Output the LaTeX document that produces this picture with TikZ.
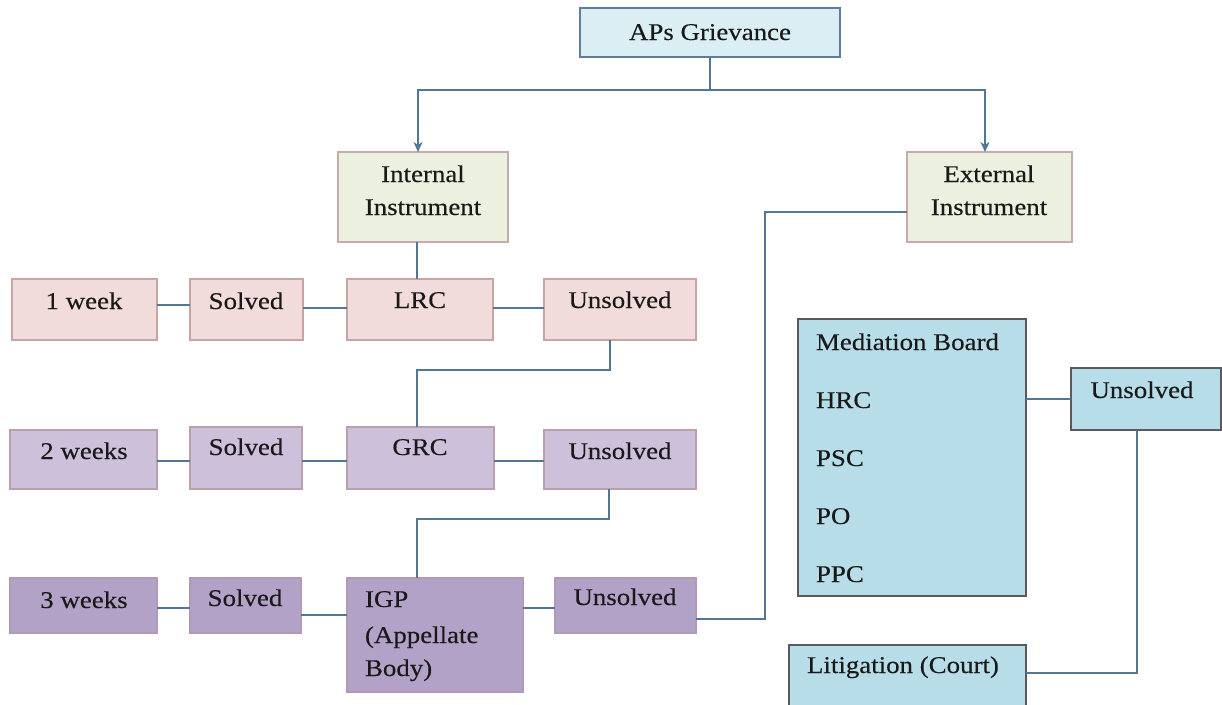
\documentclass[tikz,border=0pt]{standalone}
\usepackage{fontspec}
\setmainfont{Liberation Serif}[FakeStretch=1.12,FakeBold=0.25]
\usetikzlibrary{arrows.meta}
\definecolor{conn}{RGB}{80,120,150}
\definecolor{gfill}{RGB}{219,238,244}
\definecolor{gdraw}{RGB}{96,124,156}
\definecolor{ifill}{RGB}{235,241,222}
\definecolor{idraw}{RGB}{200,172,172}
\definecolor{r1fill}{RGB}{242,220,219}
\definecolor{r1draw}{RGB}{200,165,165}
\definecolor{r2fill}{RGB}{204,192,218}
\definecolor{r2draw}{RGB}{185,160,170}
\definecolor{r3fill}{RGB}{179,162,199}
\definecolor{r3draw}{RGB}{176,154,181}
\definecolor{bfill}{RGB}{183,221,232}
\definecolor{bdraw}{RGB}{90,90,90}
\begin{document}
\begin{tikzpicture}[x=1pt,y=-1pt,
  every node/.style={font=\fontsize{24}{27}\selectfont, text=black!90, inner sep=0pt, outer sep=0pt},
  bx/.style={draw, line width=1.5pt, anchor=north west},
  conn/.style={draw=conn, line width=1.5pt},
  arr/.style={conn, -{Stealth[length=10pt,width=9pt,inset=3pt]}},
  g/.style={bx, fill=gfill, draw=gdraw},
  ins/.style={bx, fill=ifill, draw=idraw},
  r1/.style={bx, fill=r1fill, draw=r1draw},
  r2/.style={bx, fill=r2fill, draw=r2draw},
  r3/.style={bx, fill=r3fill, draw=r3draw},
  bl/.style={bx, fill=bfill, draw=bdraw},
  sz/.style 2 args={minimum width=#1pt, minimum height=#2pt},
  tb/.style={anchor=base},
  tl/.style={anchor=base west}
]
\useasboundingbox (0,0) rectangle (1222,704);
\fill[white] (0,0) rectangle (1222,704);

% boxes
\node[g, sz={260}{49}] (griev) at (580,8) {};
\node[ins, sz={170}{90}] (internal) at (338,152) {};
\node[ins, sz={165}{90}] (external) at (907,152) {};

\node[r1, sz={145}{61}] (week1) at (12,279) {};
\node[r1, sz={113}{61}] (solved1) at (190,279) {};
\node[r1, sz={146}{61}] (lrc) at (347,279) {};
\node[r1, sz={152}{61}] (uns1) at (544,279) {};

\node[r2, sz={147}{59}] (week2) at (10,430) {};
\node[r2, sz={112}{62}] (solved2) at (190,427) {};
\node[r2, sz={147}{62}] (grc) at (347,427) {};
\node[r2, sz={152}{59}] (uns2) at (544,430) {};

\node[r3, sz={147}{55}] (week3) at (10,578) {};
\node[r3, sz={111}{55}] (solved3) at (190,578) {};
\node[r3, sz={176}{114}] (igp) at (347,578) {};
\node[r3, sz={141}{55}] (uns3) at (555,578) {};

\node[bl, sz={228}{277}] (med) at (798,319) {};
\node[bl, sz={150}{62}] (uns4) at (1071,368) {};
\node[bl, sz={237}{70}] (lit) at (789,645) {};

% texts
\node[tb] (t-griev) at (710,40) {APs Grievance};
\node[tb] (t-int1) at (423,182) {Internal};
\node[tb] (t-int2) at (423,215) {Instrument};
\node[tb] (t-ext1) at (989,182) {External};
\node[tb] (t-ext2) at (989,215) {Instrument};

\node[tb] (t-week1) at (84,309) {1 week};
\node[tb] (t-solved1) at (246,309) {Solved};
\node[tb] (t-lrc) at (420,308) {LRC};
\node[tb] (t-uns1) at (620,308) {Unsolved};

\node[tb] (t-week2) at (84,459) {2 weeks};
\node[tb] (t-solved2) at (246,455) {Solved};
\node[tb] (t-grc) at (420,455) {GRC};
\node[tb] (t-uns2) at (620,459) {Unsolved};

\node[tb] (t-week3) at (84,608) {3 weeks};
\node[tb] (t-solved3) at (245,606) {Solved};
\node[tl] (t-igp1) at (365,607) {IGP};
\node[tl] (t-igp2) at (365,643) {(Appellate};
\node[tl] (t-igp3) at (365,676) {Body)};
\node[tb] (t-uns3) at (625,605) {Unsolved};

\node[tl] (t-med1) at (816,350) {Mediation Board};
\node[tl] (t-med2) at (816,408) {HRC};
\node[tl] (t-med3) at (816,466) {PSC};
\node[tl] (t-med4) at (816,524) {PO};
\node[tl] (t-med5) at (816,582) {PPC};
\node[tb] (t-uns4) at (1142,398) {Unsolved};
\node[tl] (t-lit) at (807,673) {Litigation (Court)};

% connectors
\coordinate (split) at ([yshift=-33]griev.south);
\draw[conn] (griev.south) -- (split);
\draw[arr] (split) -| ([xshift=-5]internal.north);
\draw[arr] (split) -| ([xshift=-4.5]external.north);

\draw[conn] ([xshift=-6]internal.south) -- ([xshift=-3]lrc.north);
\draw[conn] ([yshift=4.5]week1.east) -- ([yshift=4.5]solved1.west);
\draw[conn] ([yshift=1.5]solved1.east) -- ([yshift=1.5]lrc.west);
\draw[conn] ([yshift=1.5]lrc.east) -- ([yshift=1.5]uns1.west);
\draw[conn] ([xshift=-10]uns1.south) -- ++(0,30) -| ([xshift=-3.5]grc.north);

\draw[conn] ([yshift=-1.5]week2.east) -- ([yshift=-3]solved2.west);
\draw[conn] ([yshift=-3]solved2.east) -- ([yshift=-3]grc.west);
\draw[conn] ([yshift=-3]grc.east) -- ([yshift=-1.5]uns2.west);
\draw[conn] ([xshift=-11]uns2.south) -- ++(0,30) -| ([xshift=-18]igp.north);

\draw[conn] ([yshift=-2.5]week3.east) -- ([yshift=-2.5]solved3.west);
\draw[conn] ([yshift=-9.5]solved3.east) -- (solved3.east |- 0,615 -| igp.west);
\draw[conn] ([yshift=-2.5]uns3.west) -- ([yshift=-2.5]uns3.west -| igp.east);
\coordinate (bendA) at (765,619);
\coordinate (bendB) at (765,212);
\draw[conn] ([yshift=-13.5]uns3.east) -- (bendA) -- (bendB) -- (external.west |- bendB);

\draw[conn] (uns4.west -| med.east) -- (uns4.west);
\coordinate (bendC) at (1137,673);
\draw[conn] ([xshift=-9]uns4.south) -- (bendC) -- (lit.east |- bendC);
\end{tikzpicture}
\end{document}
